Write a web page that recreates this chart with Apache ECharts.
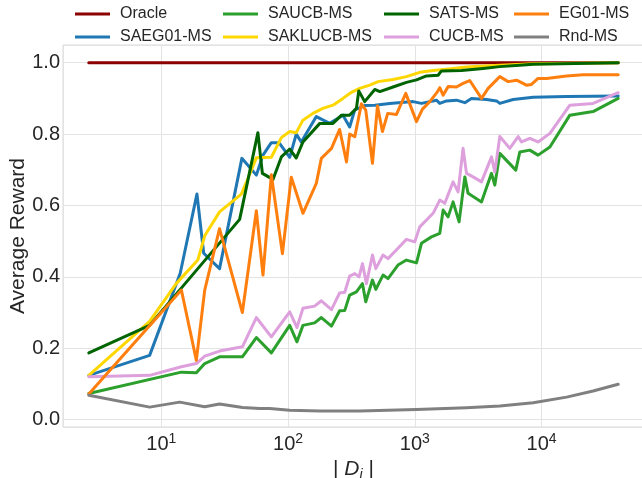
<!DOCTYPE html>
<html>
<head>
<meta charset="utf-8">
<script src="https://cdn.jsdelivr.net/npm/echarts@6/dist/echarts.min.js"></script>
<style>html,body{margin:0;padding:0;background:#fff;}#c{width:642px;height:478px;}</style>
</head>
<body>
<div id="c"></div>
<script>
// Data: [|D_i|, average reward]
const oracle = [[2.68,1.0],[40180,1.0]];
const saeg01 = [[2.68,0.124],[8.09,0.18],[14.1,0.41],[19.1,0.632],[21.6,0.466],[28.8,0.423],[43.2,0.732],[56.2,0.685],[63.4,0.741],[73.8,0.776],[84.8,0.776],[103,0.735],[116,0.80],[127,0.778],[167,0.849],[213,0.83],[271,0.853],[306,0.82],[336,0.868],[402,0.88],[483,0.881],[634,0.886],[968,0.891],[1127,0.886],[1480,0.895],[1573,0.886],[1776,0.893],[2130,0.895],[2478,0.888],[2797,0.90],[3672,0.897],[4407,0.893],[4680,0.886],[5958,0.897],[8576,0.903],[15730,0.905],[40180,0.907]];
const saucb = [[2.68,0.073],[14.4,0.133],[18.9,0.131],[22,0.157],[28.8,0.176],[43.6,0.176],[56.2,0.23],[73.8,0.187],[103,0.264],[117.5,0.218],[131,0.264],[162,0.271],[183,0.286],[220,0.262],[255,0.305],[280,0.306],[306,0.349],[346,0.358],[386,0.381],[410,0.33],[463,0.391],[492,0.365],[561,0.405],[614,0.395],[736,0.433],[858,0.447],[1030,0.439],[1127,0.494],[1352,0.512],[1573,0.522],[1670,0.587],[1830,0.568],[2003,0.61],[2234,0.554],[2478,0.68],[2630,0.634],[3355,0.61],[4024,0.69],[4273,0.657],[4680,0.746],[6253,0.699],[6730,0.75],[8067,0.755],[9376,0.741],[11620,0.764],[16700,0.853],[25470,0.863],[40180,0.90]];
const saklucb = [[2.68,0.124],[8.09,0.275],[13.1,0.381],[19.4,0.447],[22,0.515],[28.8,0.582],[42.8,0.632],[48.2,0.675],[56.2,0.734],[73.8,0.735],[88.5,0.79],[103,0.807],[116,0.804],[131,0.839],[157,0.858],[188,0.872],[226,0.881],[271,0.9],[316,0.917],[367,0.928],[441,0.937],[513,0.947],[673,0.953],[858,0.961],[1093,0.973],[1393,0.978],[1776,0.982],[2555,0.988],[4680,0.993],[8576,0.997],[40180,1.0]];
const sats = [[2.68,0.187],[8.09,0.264],[41.5,0.561],[57.8,0.804],[62.7,0.69],[76.0,0.673],[88.5,0.736],[103,0.758],[116,0.733],[131,0.778],[178,0.83],[226,0.83],[264,0.853],[306,0.853],[346,0.872],[361,0.921],[402,0.891],[483,0.925],[529,0.919],[673,0.932],[858,0.945],[1030,0.952],[1235,0.963],[1525,0.965],[1622,0.977],[2334,0.978],[2400,0.982],[3453,0.984],[4680,0.989],[6730,0.993],[8576,0.996],[40180,1.0]];
const cucb = [[2.68,0.12],[8.09,0.124],[14.4,0.148],[18.9,0.157],[22,0.178],[28.8,0.192],[43.6,0.204],[56.2,0.286],[73.8,0.232],[103,0.302],[117.5,0.258],[131,0.312],[162,0.318],[183,0.333],[220,0.308],[255,0.355],[280,0.357],[306,0.402],[336,0.409],[363,0.40],[386,0.437],[415,0.381],[463,0.461],[492,0.423],[561,0.461],[614,0.451],[736,0.48],[858,0.505],[998,0.498],[1093,0.54],[1393,0.578],[1573,0.615],[1722,0.606],[2003,0.666],[2193,0.638],[2400,0.76],[2555,0.69],[2880,0.68],[3355,0.666],[4024,0.736],[4273,0.694],[4680,0.793],[5610,0.76],[6527,0.793],[6939,0.778],[8067,0.788],[9376,0.778],[11620,0.802],[16700,0.881],[25470,0.886],[40180,0.916]];
const eg01 = [[2.68,0.072],[14.4,0.363],[18.9,0.166],[22,0.363],[28.8,0.535],[43.6,0.30],[56.2,0.585],[63.4,0.405],[73.8,0.686],[90.2,0.465],[106,0.679],[131,0.578],[167,0.662],[183,0.732],[220,0.76],[255,0.813],[289,0.722],[306,0.80],[336,0.793],[379,0.885],[410,0.867],[463,0.718],[507,0.879],[555,0.807],[611,0.858],[716,0.855],[848,0.914],[1030,0.835],[1148,0.87],[1312,0.891],[1490,0.916],[1573,0.93],[1670,0.909],[1830,0.933],[2128,0.932],[2400,0.942],[2710,0.95],[3355,0.9],[3785,0.928],[4680,0.961],[5445,0.947],[6340,0.951],[7600,0.937],[8318,0.939],[9376,0.956],[10940,0.956],[15730,0.963],[21280,0.966],[40180,0.966]];
const rnd = [[2.68,0.068],[8.09,0.035],[13.95,0.049],[22,0.036],[28.8,0.044],[43.8,0.034],[59.7,0.031],[71.6,0.031],[103,0.026],[178,0.024],[367,0.024],[1030,0.028],[2555,0.033],[4680,0.038],[8576,0.047],[15730,0.063],[25470,0.080],[40180,0.099]];

const names = ['Oracle','SAEG01-MS','SAUCB-MS','SAKLUCB-MS','SATS-MS','CUCB-MS','EG01-MS','Rnd-MS'];
const colors = ['#8b0000','#1f77b4','#2ca02c','#ffd700','#006400','#dda0dd','#ff7f0e','#808080'];
const datasets = [oracle, saeg01, saucb, saklucb, sats, cucb, eg01, rnd];

const FONT = 'Liberation Sans';
const TXT = '#262626';
const chart = echarts.init(document.getElementById('c'), null, {renderer:'canvas'});

function legendCol(left, items){
  return {
    left: left, top: 5, orient: 'vertical', padding: 0, itemGap: 5,
    itemWidth: 35, itemHeight: 3, icon: 'rect',
    textStyle: {fontSize: 16, color: TXT, fontFamily: FONT, lineHeight: 18, padding: [0,0,0,5]},
    data: items
  };
}

chart.setOption({
  animation: false,
  backgroundColor: '#fff',
  color: colors,
  grid: {left: 63, top: 45, right: -2, bottom: 51, show: true, borderColor: '#d9d9d9', borderWidth: 1, containLabel: false, outerBoundsMode: 'none'},
  legend: [
    legendCol(75, ['Oracle','SAEG01-MS']),
    legendCol(223, ['SAUCB-MS','SAKLUCB-MS']),
    legendCol(384, ['SATS-MS','CUCB-MS']),
    legendCol(514, ['EG01-MS','Rnd-MS'])
  ],
  xAxis: {
    type: 'log', logBase: 10, min: 1.677, max: 64200,
    axisLine: {show: false}, axisTick: {show: false},
    splitLine: {show: true, lineStyle: {color: '#e3e3e3', width: 1}},
    axisLabel: {
      margin: 5, showMinLabel: false, showMaxLabel: false,
      formatter: function(v){
        const l = Math.log10(v), e = Math.round(l);
        if (Math.abs(l - e) > 1e-6) return '';
        return '{b|10}{s|' + e + '}';
      },
      rich: {
        b: {fontSize: 20, color: TXT, fontFamily: FONT, lineHeight: 24},
        s: {fontSize: 14, color: TXT, fontFamily: FONT, lineHeight: 10, verticalAlign: 'top'}
      }
    },
    name: '{n|| }{d|D}{i|i}{n| |}', nameLocation: 'middle', nameGap: 22,
    nameTextStyle: {
      rich: {
        n: {fontSize: 21, color: TXT, fontFamily: FONT, lineHeight: 26},
        d: {fontSize: 21, color: TXT, fontFamily: FONT, fontStyle: 'italic', lineHeight: 26},
        i: {fontSize: 14, color: TXT, fontFamily: FONT, fontStyle: 'italic', lineHeight: 26, verticalAlign: 'bottom', padding: [0,0,0,0]}
      }
    }
  },
  yAxis: {
    type: 'value', min: -0.0207, max: 1.0496,
    axisLine: {show: false}, axisTick: {show: false},
    splitLine: {show: true, lineStyle: {color: '#e3e3e3', width: 1}},
    axisLabel: {
      margin: 3, fontSize: 20, color: TXT, fontFamily: FONT,
      formatter: function(v){
        const k = v / 0.2;
        if (Math.abs(k - Math.round(k)) > 1e-6) return '';
        return (Math.round(k) * 0.2).toFixed(1);
      }
    },
    name: 'Average Reward', nameLocation: 'middle', nameGap: 34, nameRotate: 90, nameMoveOverlap: false,
    nameTextStyle: {fontSize: 21, color: TXT, fontFamily: FONT}
  },
  series: datasets.map(function(d, i){
    return {
      name: names[i], type: 'line', data: d, showSymbol: false, symbol: 'none',
      lineStyle: {width: 3, color: colors[i], join: 'round', cap: 'round'},
      itemStyle: {color: colors[i]},
      z: 2 + i, clip: false
    };
  })
});
</script>
</body>
</html>
